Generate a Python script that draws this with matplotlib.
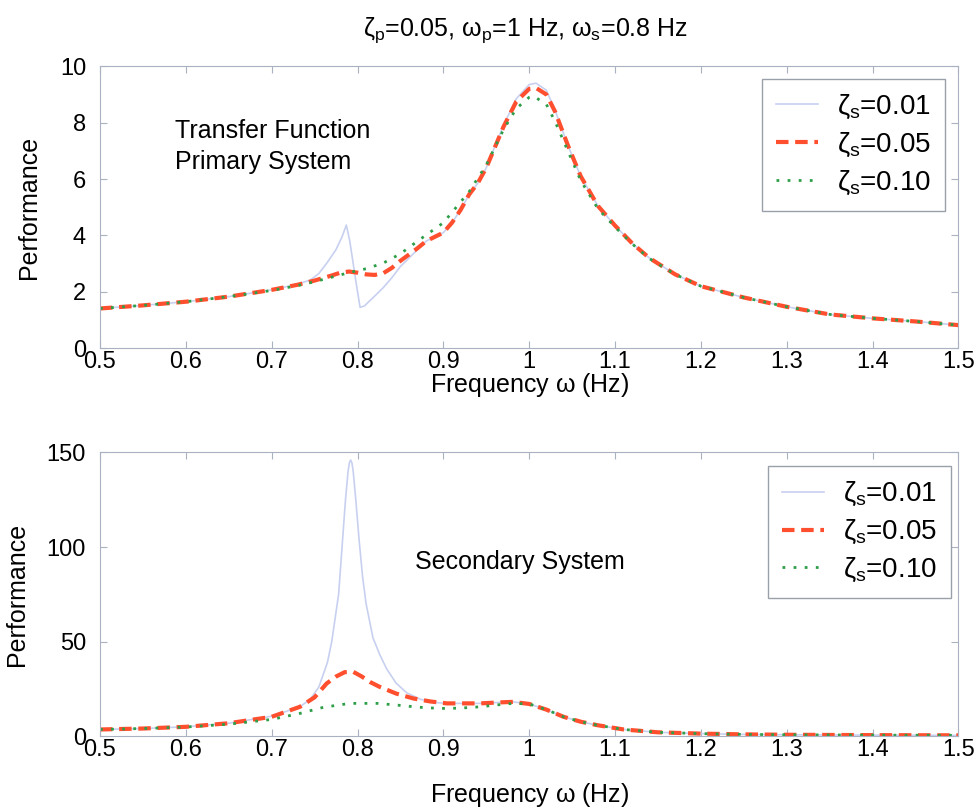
import matplotlib
matplotlib.use('Agg')
import matplotlib.pyplot as plt

plt.rcParams['font.family'] = ['Liberation Sans', 'DejaVu Sans']
plt.rcParams['mathtext.fontset'] = 'custom'
plt.rcParams['mathtext.rm'] = 'Liberation Sans'
plt.rcParams['mathtext.it'] = 'Liberation Sans'
plt.rcParams['mathtext.sf'] = 'Liberation Sans'

# primary system (top)
top_f_blue = [0.5, 0.55, 0.6, 0.65, 0.7, 0.73, 0.745, 0.755, 0.765, 0.775, 0.782, 0.787,
              0.791, 0.795, 0.799, 0.803, 0.808, 0.82, 0.83, 0.84, 0.85, 0.87, 0.88, 0.9,
              0.91, 0.92, 0.93, 0.94, 0.95, 0.97, 0.985, 1.0, 1.008, 1.02, 1.03, 1.045,
              1.06, 1.08, 1.1, 1.12, 1.14, 1.17, 1.2, 1.25, 1.3, 1.35, 1.4, 1.45, 1.5]
top_blue = [1.41, 1.52, 1.65, 1.83, 2.07, 2.27, 2.42, 2.65, 3.05, 3.5, 3.95, 4.37,
            3.8, 3.0, 2.2, 1.45, 1.5, 1.85, 2.15, 2.5, 2.9, 3.5, 3.8, 4.1,
            4.45, 4.9, 5.45, 5.85, 6.4, 7.9, 8.85, 9.35, 9.4, 9.15, 8.45, 7.2,
            6.1, 5.05, 4.35, 3.72, 3.2, 2.62, 2.2, 1.8, 1.47, 1.2, 1.06, 0.95, 0.82]

top_f_red = [0.5, 0.55, 0.6, 0.65, 0.7, 0.73, 0.75, 0.77, 0.78, 0.79, 0.8, 0.81, 0.82,
             0.83, 0.84, 0.85, 0.87, 0.88, 0.9, 0.91, 0.92, 0.93, 0.94, 0.95, 0.97,
             0.985, 1.0, 1.008, 1.02, 1.03, 1.045, 1.06, 1.08, 1.1, 1.12, 1.14, 1.17,
             1.2, 1.25, 1.3, 1.35, 1.4, 1.45, 1.5]
top_red = [1.41, 1.52, 1.65, 1.83, 2.07, 2.25, 2.4, 2.58, 2.68, 2.72, 2.68, 2.62, 2.6,
           2.66, 2.85, 3.1, 3.55, 3.8, 4.1, 4.45, 4.9, 5.45, 5.85, 6.4, 7.85,
           8.75, 9.2, 9.23, 9.0, 8.4, 7.2, 6.1, 5.05, 4.35, 3.72, 3.2, 2.62,
           2.2, 1.8, 1.47, 1.2, 1.06, 0.95, 0.82]

top_f_green = [0.5, 0.55, 0.6, 0.65, 0.7, 0.73, 0.75, 0.77, 0.79, 0.81, 0.83, 0.85, 0.87,
               0.9, 0.93, 0.95, 0.97, 0.985, 1.0, 1.005, 1.02, 1.03, 1.045, 1.06, 1.08,
               1.1, 1.12, 1.14, 1.17, 1.2, 1.25, 1.3, 1.35, 1.4, 1.45, 1.5]
top_green = [1.41, 1.52, 1.65, 1.83, 2.05, 2.22, 2.36, 2.52, 2.68, 2.82, 3.02, 3.35, 3.8,
             4.45, 5.55, 6.5, 7.75, 8.5, 8.9, 8.94, 8.65, 8.05, 7.0, 5.95, 4.95,
             4.3, 3.7, 3.18, 2.62, 2.2, 1.8, 1.47, 1.2, 1.06, 0.95, 0.82]

# secondary system (bottom)
bot_f_blue = [0.5, 0.55, 0.6, 0.65, 0.7, 0.733, 0.745, 0.755, 0.765, 0.77, 0.778, 0.782,
              0.786, 0.789, 0.7905, 0.792, 0.7935, 0.795, 0.798, 0.802, 0.806, 0.81, 0.818,
              0.826, 0.834, 0.845, 0.857, 0.873, 0.89, 0.904, 0.943, 0.965, 0.981, 1.0,
              1.02, 1.04, 1.06, 1.079, 1.11, 1.15, 1.2, 1.25, 1.3, 1.4, 1.5]
bot_blue = [3.5, 4.0, 4.9, 6.8, 10.5, 15.5, 19.5, 26, 39, 50, 75, 100,
            125, 140, 144.5, 146, 144.5, 140, 125, 103, 84, 70, 52,
            43, 35.5, 28, 23, 19.5, 17.8, 17.3, 17.3, 17.8, 18.1, 17.0,
            14.0, 10.2, 7.6, 5.8, 3.5, 2.0, 1.3, 0.9, 0.7, 0.5, 0.4]

bot_f_red = [0.5, 0.55, 0.6, 0.65, 0.7, 0.733, 0.75, 0.764, 0.775, 0.785, 0.795, 0.805,
             0.815, 0.826, 0.845, 0.865, 0.885, 0.904, 0.943, 0.965, 0.981, 1.0, 1.02,
             1.04, 1.06, 1.079, 1.11, 1.15, 1.2, 1.25, 1.3, 1.4, 1.5]
bot_red = [3.5, 4.0, 4.9, 6.8, 10.2, 15.5, 20.5, 27.8, 31.5, 33.8, 34.0, 31.5,
           28.5, 26.0, 22.5, 19.9, 18.3, 17.3, 17.3, 17.8, 18.1, 17.0, 14.0,
           10.2, 7.6, 5.8, 3.5, 2.0, 1.3, 0.9, 0.7, 0.5, 0.4]

bot_f_green = [0.5, 0.55, 0.6, 0.65, 0.7, 0.733, 0.76, 0.791, 0.823, 0.846, 0.87, 0.896,
               0.92, 0.943, 0.965, 0.981, 1.0, 1.02, 1.04, 1.06, 1.079, 1.11, 1.15, 1.2,
               1.25, 1.3, 1.4, 1.5]
bot_green = [3.5, 4.0, 4.8, 6.3, 8.8, 12.0, 15.2, 17.3, 17.3, 16.4, 15.3, 14.6,
             14.8, 15.5, 16.6, 17.3, 17.0, 14.0, 10.2, 7.6, 5.8, 3.5, 2.0, 1.3,
             0.9, 0.7, 0.5, 0.4]

labels = [r'$\zeta_s$=0.01', r'$\zeta_s$=0.05', r'$\zeta_s$=0.10']
xticks = [0.5, 0.6, 0.7, 0.8, 0.9, 1, 1.1, 1.2, 1.3, 1.4, 1.5]
xticklabels = ['0.5', '0.6', '0.7', '0.8', '0.9', '1', '1.1', '1.2', '1.3', '1.4', '1.5']

c_blue = '#c8d0f0'
c_red = '#ff4f2e'
c_green = '#2e9e48'
c_frame = '#aab2c2'

fig = plt.figure(figsize=(9.8, 8.08), dpi=100)
ax1 = fig.add_axes([0.102, 0.569, 0.876, 0.349])
ax2 = fig.add_axes([0.102, 0.089, 0.876, 0.351])


def draw(ax, fb, yb, fr, yr, fg, yg, ylim, yticks, anchor, ylab_x, xlab_y):
    ax.plot(fb, yb, color=c_blue, lw=1.2, label=labels[0])
    ax.plot(fr, yr, color=c_red, lw=3, ls=(0, (3, 1.6)), label=labels[1])
    ax.plot(fg, yg, color=c_green, lw=2, ls=(0, (1, 3)), label=labels[2])
    ax.set_xlim(0.5, 1.5)
    ax.set_ylim(*ylim)
    ax.set_xticks(xticks)
    ax.set_xticklabels(xticklabels)
    ax.set_yticks(yticks)
    ax.tick_params(direction='in', top=True, right=True, labelsize=17,
                   color=c_frame, length=5)
    ax.tick_params(axis='x', pad=2)
    ax.tick_params(axis='y', pad=10)
    for s in ax.spines.values():
        s.set_color(c_frame)
    ax.set_xlabel(r'Frequency $\omega$ (Hz)', fontsize=18)
    ax.set_ylabel('Performance', fontsize=18)
    ax.yaxis.set_label_coords(ylab_x, 0.5)
    ax.xaxis.set_label_coords(0.5, xlab_y)
    leg = ax.legend(loc='upper right', bbox_to_anchor=anchor, fontsize=20,
                    fancybox=False, framealpha=1, edgecolor='#9aa0aa',
                    handlelength=1.5, labelspacing=0.35, borderpad=0.5,
                    handletextpad=0.7, borderaxespad=0)
    leg.get_frame().set_linewidth(1.0)


draw(ax1, top_f_blue, top_blue, top_f_red, top_red, top_f_green, top_green,
     (0, 10), [0, 2, 4, 6, 8, 10], (0.984, 0.954), -0.069, -0.08)
draw(ax2, bot_f_blue, bot_blue, bot_f_red, bot_red, bot_f_green, bot_green,
     (0, 150), [0, 50, 100, 150], (0.991, 0.951), -0.083, -0.158)

ax1.text(0.587, 7.7, 'Transfer Function', fontsize=18, va='center')
ax1.text(0.587, 6.6, 'Primary System', fontsize=18, va='center')
ax2.text(0.867, 92, 'Secondary System', fontsize=18, va='center')

fig.text(0.536, 0.963, r'$\zeta_p$=0.05, $\omega_p$=1 Hz, $\omega_s$=0.8 Hz',
         fontsize=18, ha='center', va='center')

fig.savefig('out.png', dpi=100)
